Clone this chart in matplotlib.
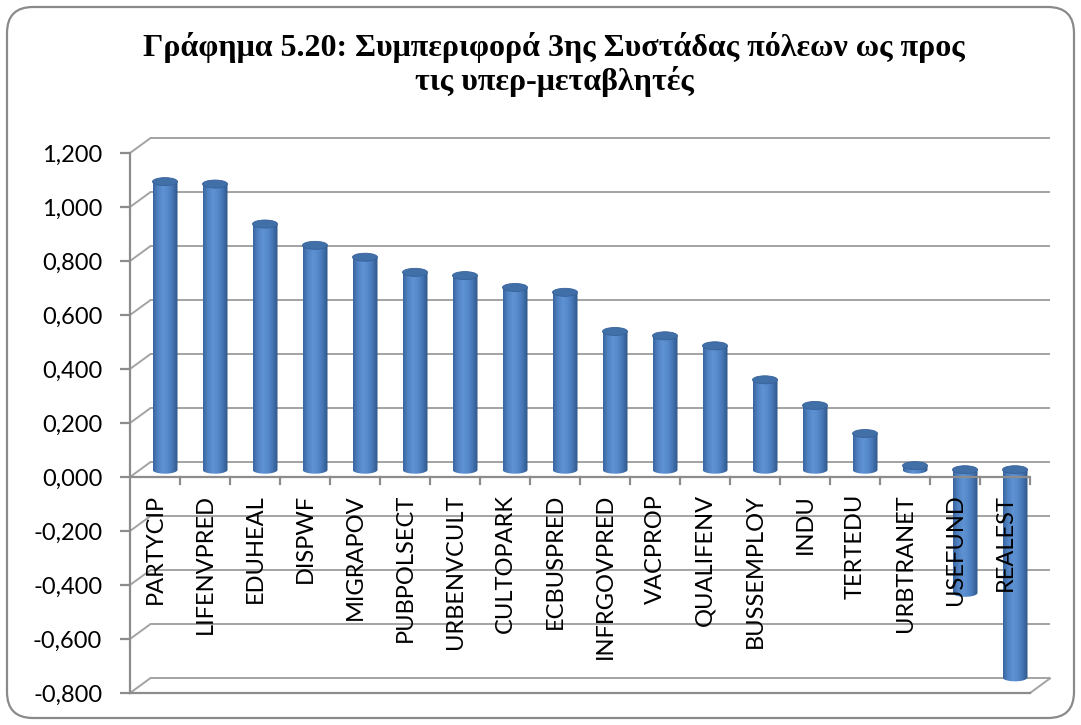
import numpy as np
import matplotlib.pyplot as plt
from matplotlib.patches import Ellipse, PathPatch, FancyBboxPatch
from matplotlib.path import Path
from matplotlib.colors import LinearSegmentedColormap
from matplotlib.ticker import FuncFormatter

categories = ['PARTYCIP', 'LIFENVPRED', 'EDUHEAL', 'DISPWF', 'MIGRAPOV', 'PUBPOLSECT',
              'URBENVCULT', 'CULTOPARK', 'ECBUSPRED', 'INFRGOVPRED', 'VACPROP', 'QUALIFENV',
              'BUSSEMPLOY', 'INDU', 'TERTEDU', 'URBTRANET', 'USEFUND', 'REALEST']
values = [1.067, 1.058, 0.910, 0.831, 0.787, 0.731, 0.719, 0.675, 0.657, 0.512,
          0.496, 0.459, 0.333, 0.238, 0.134, 0.015, -0.456, -0.769]
yticks = [-0.8, -0.6, -0.4, -0.2, 0.0, 0.2, 0.4, 0.6, 0.8, 1.0, 1.2]
title = 'Γράφημα 5.20: Συμπεριφορά 3ης Συστάδας πόλεων ως προς\nτις υπερ-μεταβλητές'

W, H = 1081, 725
fig = plt.figure(figsize=(W / 100, H / 100), dpi=100)
fig.patch.set_facecolor('white')

# rounded chart frame
fig.add_artist(FancyBboxPatch((0.07, 0.07), 10.67, 7.11, boxstyle='round,pad=0,rounding_size=0.26',
                              transform=fig.dpi_scale_trans, facecolor='none',
                              edgecolor='#8a8a8a', linewidth=1.6))

fig.text(0.5125, 0.911, title, ha='center', va='center', fontsize=23, fontweight='bold',
         family='Liberation Serif', linespacing=1.1)

ax = fig.add_axes([130 / W, 32 / H, 900 / W, 540 / H])
ax.set_xlim(-0.5, len(categories) - 0.5)
ax.set_ylim(-0.8, 1.2)
ax.patch.set_alpha(0)

# depth of the pseudo-3D box (data units)
DX, DY = 0.4, 0.054
grid_c = '#a3a3a3'
axis_c = '#8c8c8c'

# back wall gridlines and the diagonal edges on the left side
x_left, x_right = -0.5, len(categories) - 0.5
for v in yticks:
    ax.plot([x_left + DX, x_right + DX], [v + DY, v + DY], color=grid_c, lw=1.4,
            zorder=0, clip_on=False, solid_capstyle='butt')
    ax.plot([x_left, x_left + DX], [v, v + DY], color=grid_c, lw=1.4, zorder=0, clip_on=False)
# floor right edge
ax.plot([x_right, x_right + DX], [-0.8, -0.8 + DY], color=grid_c, lw=1.4, zorder=0, clip_on=False)

# cylinders
cmap = LinearSegmentedColormap.from_list('cyl', ['#3a66a0', '#5284c4', '#5e92d3', '#5689ca',
                                                 '#4474b2', '#2f5688'])
grad = np.linspace(0, 1, 64).reshape(1, -1)
bw = 0.5
caph = 8 / 270
for i, v in enumerate(values):
    xc = i + DX / 2
    y_top = DY / 2 + max(v, 0)
    y_bot = DY / 2 + min(v, 0)
    x0, x1 = xc - bw / 2, xc + bw / 2
    t = np.linspace(np.pi, 2 * np.pi, 40)
    verts = [(x0, y_top)] + list(zip(xc + bw / 2 * np.cos(t), y_bot + caph / 2 * np.sin(t)))
    verts += [(x1, y_top), (x0, y_top)]
    body = PathPatch(Path(verts), facecolor='none', edgecolor='none')
    ax.add_patch(body)
    im = ax.imshow(grad, cmap=cmap, extent=[x0, x1, y_bot - caph, y_top], aspect='auto',
                   interpolation='bilinear', zorder=2)
    im.set_clip_path(body)
    ax.add_patch(Ellipse((xc, y_top), bw, caph, facecolor='#416fa8', edgecolor='#37619a',
                         lw=0.6, zorder=3))

ax.set_xlim(-0.5, len(categories) - 0.5)
ax.set_ylim(-0.8, 1.2)

# front axes
for s in ['top', 'right']:
    ax.spines[s].set_visible(False)
for s in ['left', 'bottom']:
    ax.spines[s].set_color(axis_c)
    ax.spines[s].set_linewidth(1.6)
    ax.spines[s].set_zorder(4)
ax.plot([x_left, x_right], [0, 0], color=axis_c, lw=1.6, zorder=4, solid_capstyle='butt')
for b in np.arange(0.5, len(categories), 1.0):
    ax.plot([b, b], [0, -7 / 270], color=axis_c, lw=1.6, zorder=4, clip_on=False)

ax.set_xticks([])
ax.set_yticks(yticks)
ax.yaxis.set_major_formatter(FuncFormatter(lambda v, p: f'{v:.3f}'.replace('.', ',')))
ax.tick_params(axis='y', direction='out', length=7, width=1.6, color=axis_c, pad=13,
               labelsize=17)
for lab in ax.get_yticklabels():
    lab.set_family('Lato')

for i, name in enumerate(categories):
    ax.text(i, -0.063, name, rotation=90, ha='center', va='top', fontsize=17,
            family='Lato', zorder=5)

fig.savefig('out.png', dpi=100)
